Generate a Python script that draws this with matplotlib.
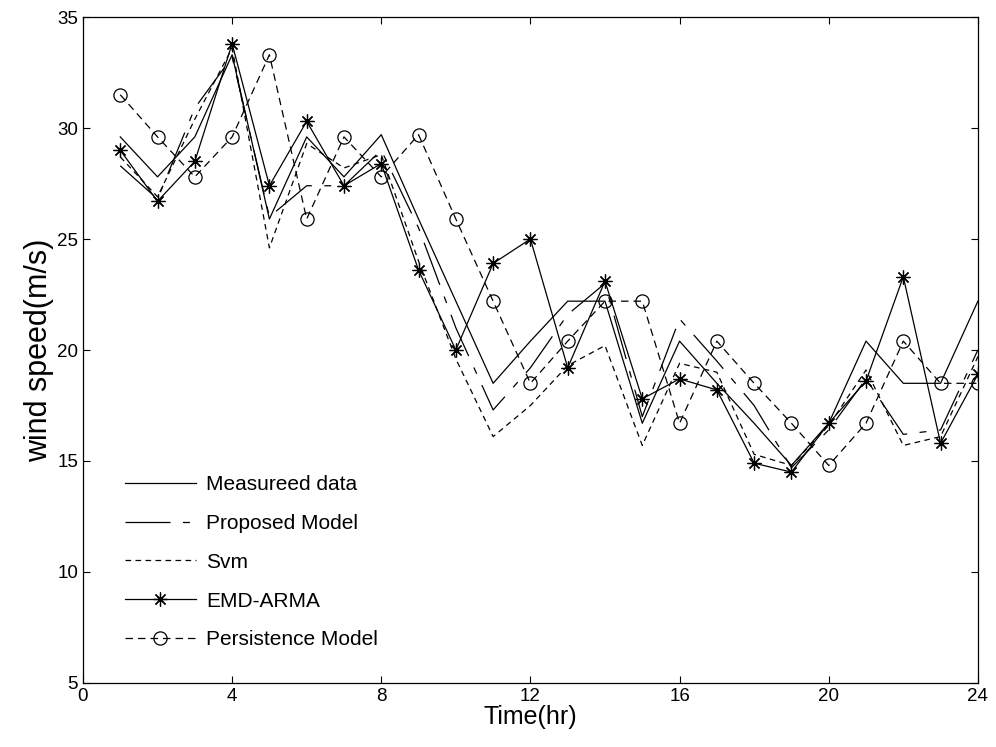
import matplotlib.pyplot as plt
import numpy as np

plt.rcParams['font.family'] = ['Liberation Sans', 'DejaVu Sans']

hours = np.arange(1, 25)

measured = [29.6, 27.8, 29.6, 33.3, 25.9, 29.6, 27.8, 29.7, 25.9, 22.2, 18.5, 20.4,
            22.2, 22.2, 16.7, 20.4, 18.5, 16.7, 14.8, 16.7, 20.4, 18.5, 18.5, 22.2]
proposed = [28.3, 26.8, 30.9, 33.2, 26.0, 27.4, 27.4, 29.0, 25.5, 21.0, 17.3, 19.2,
            21.6, 23.0, 17.0, 21.4, 19.5, 17.5, 14.7, 16.4, 18.7, 16.2, 16.4, 20.0]
svm = [28.7, 26.9, 30.4, 33.6, 24.6, 29.3, 28.2, 28.8, 24.0, 19.6, 16.1, 17.5,
       19.3, 20.2, 15.7, 19.4, 19.0, 15.3, 14.8, 16.6, 19.1, 15.7, 16.1, 19.7]
emd_arma = [29.0, 26.7, 28.5, 33.8, 27.4, 30.3, 27.4, 28.4, 23.6, 20.0, 23.9, 25.0,
            19.2, 23.1, 17.8, 18.7, 18.2, 14.9, 14.5, 16.7, 18.6, 23.3, 15.8, 18.9]
persistence = [31.5, 29.6, 27.8, 29.6, 33.3, 25.9, 29.6, 27.8, 29.7, 25.9, 22.2, 18.5,
               20.4, 22.2, 22.2, 16.7, 20.4, 18.5, 16.7, 14.8, 16.7, 20.4, 18.5, 18.5]

fig = plt.figure(figsize=(9.96, 7.47), dpi=100)
ax = fig.add_axes([0.0833, 0.0857, 0.8985, 0.8915])

lw = 0.9
ax.plot(hours, measured, color='k', lw=lw, label='Measureed data')
ax.plot(hours, proposed, color='k', lw=lw, dashes=(36, 10, 5.5, 10), label='Proposed Model')
ax.plot(hours, svm, color='k', lw=lw, dashes=(4.5, 3.5), label='Svm')
ax.plot(hours, emd_arma, color='k', lw=lw, marker=(8, 2, 0), ms=10, mew=0.9,
        label='EMD-ARMA')
ax.plot(hours, persistence, color='k', lw=lw, dashes=(6, 4), marker='o', ms=9.5,
        mfc='none', mew=0.9, label='Persistence Model')

ax.set_xlim(0, 24)
ax.set_ylim(5, 35)
ax.set_xticks(range(0, 25, 4))
ax.set_yticks(range(5, 36, 5))
ax.tick_params(direction='in', length=5, top=True, right=True, labelsize=13.5)
for s in ax.spines.values():
    s.set_linewidth(0.9)

ax.set_xlabel('Time(hr)', fontsize=18, labelpad=0)
ax.set_ylabel('wind speed(m/s)', fontsize=22, labelpad=2)

ax.legend(loc='upper left', bbox_to_anchor=(0.047, 0.312), frameon=False,
          fontsize=15, handlelength=3.4, handletextpad=0.5, labelspacing=0.95,
          borderpad=0, borderaxespad=0)

plt.savefig('out.png', dpi=100)
